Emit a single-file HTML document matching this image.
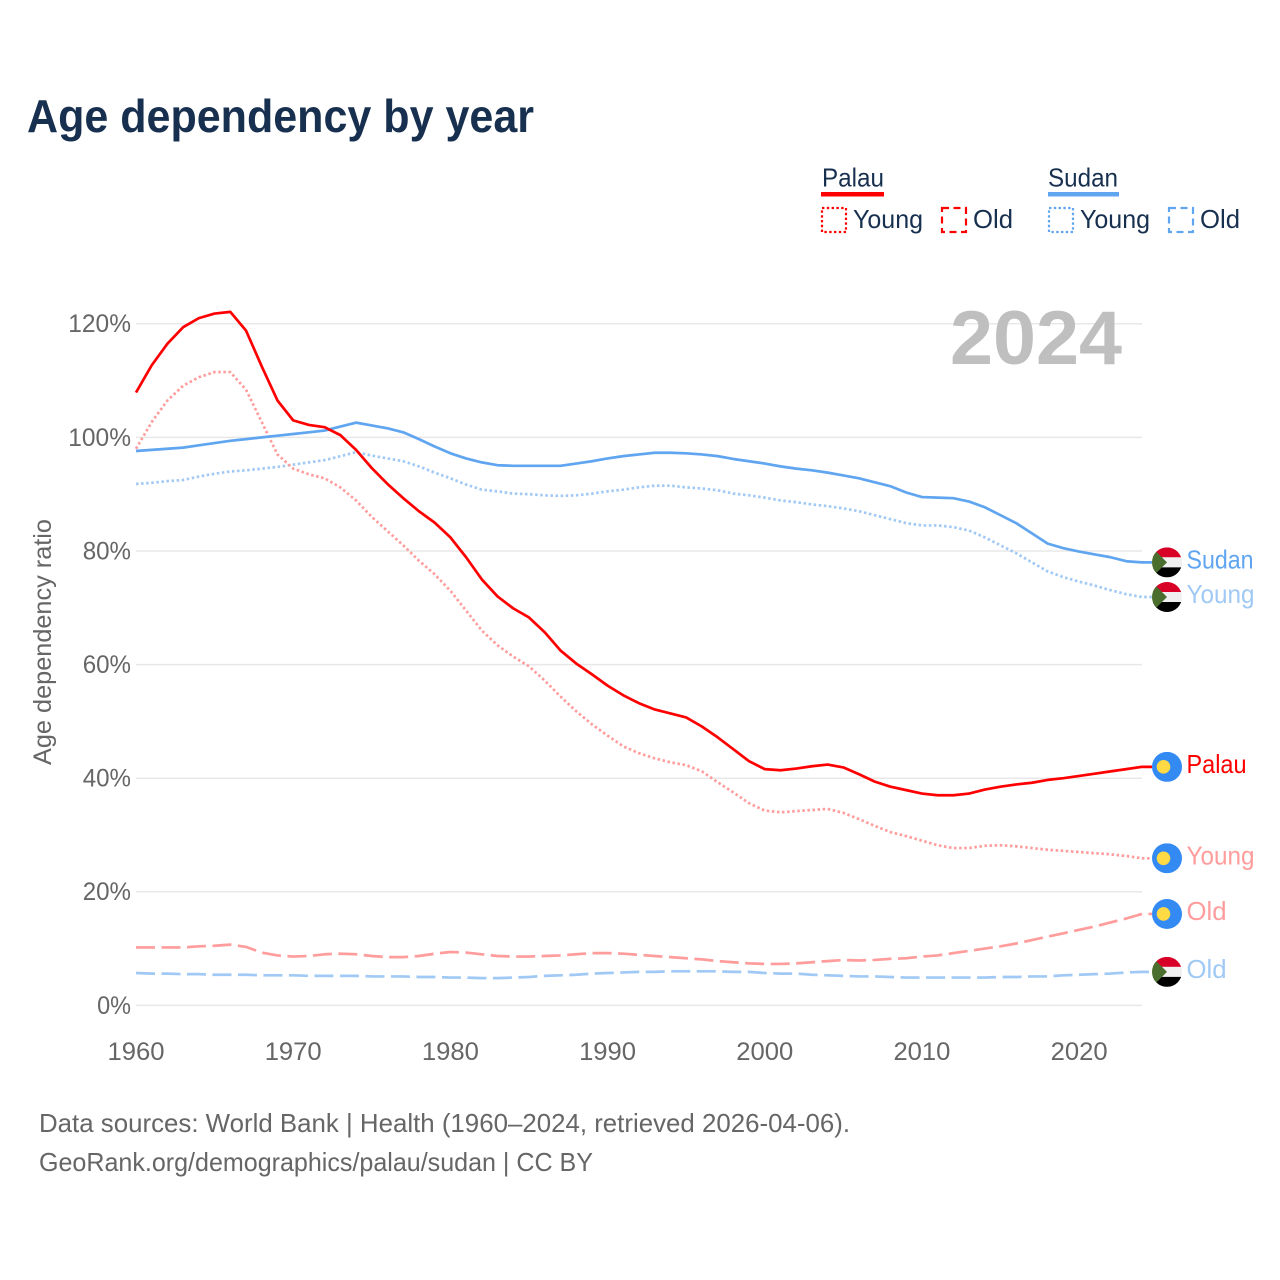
<!DOCTYPE html>
<html lang="en">
<head>
<meta charset="utf-8">
<title>Age dependency by year</title>
<style>
html,body{margin:0;padding:0;background:#fff;}
svg{display:block;font-family:"Liberation Sans",sans-serif;}
</style>
</head>
<body>
<svg id="chart" xmlns="http://www.w3.org/2000/svg" width="1280" height="1280" viewBox="0 0 1280 1280">
  <defs>
    <clipPath id="flag-clip"><circle cx="0" cy="0" r="15"/></clipPath>
    <g id="flag-palau" clip-path="url(#flag-clip)">
      <rect x="-15" y="-15" width="30" height="30" fill="#338af3"/>
      <circle cx="-3.5" cy="0" r="6.8" fill="#ffda44"/>
    </g>
    <g id="flag-sudan" clip-path="url(#flag-clip)">
      <rect x="-15" y="-15" width="30" height="10" fill="#d80027"/>
      <rect x="-15" y="-5" width="30" height="10" fill="#f0f0f0"/>
      <rect x="-15" y="5" width="30" height="10" fill="#000"/>
      <polygon points="-15,-15 0,0 -15,15" fill="#496e2d"/>
    </g>
  </defs>

  <text x="27" y="132" font-size="46" font-weight="700" fill="#18304f" textLength="507" lengthAdjust="spacingAndGlyphs">Age dependency by year</text>

  <g font-size="26" fill="#18304f">
    <text x="822" y="186.5" textLength="62" lengthAdjust="spacingAndGlyphs">Palau</text>
    <rect x="821" y="192" width="63" height="4.5" fill="#ff0000"/>
    <rect x="822" y="208" width="24" height="24" fill="none" stroke="#ff0000" stroke-width="2.2" stroke-dasharray="2.4,2.4"/>
    <text x="853" y="228" textLength="70" lengthAdjust="spacingAndGlyphs">Young</text>
    <rect x="942" y="208" width="24" height="24" fill="none" stroke="#ff0000" stroke-width="2.2" stroke-dasharray="7,4.5"/>
    <text x="973" y="228" textLength="40" lengthAdjust="spacingAndGlyphs">Old</text>
    <text x="1048" y="186.5" textLength="70" lengthAdjust="spacingAndGlyphs">Sudan</text>
    <rect x="1048" y="192" width="71" height="4.5" fill="#60a5f0"/>
    <rect x="1049" y="208" width="24" height="24" fill="none" stroke="#60a5f0" stroke-width="2.2" stroke-dasharray="2.4,2.4"/>
    <text x="1080" y="228" textLength="70" lengthAdjust="spacingAndGlyphs">Young</text>
    <rect x="1169" y="208" width="24" height="24" fill="none" stroke="#60a5f0" stroke-width="2.2" stroke-dasharray="7,4.5"/>
    <text x="1200" y="228" textLength="40" lengthAdjust="spacingAndGlyphs">Old</text>
  </g>

  <g id="grid"></g>
  <g id="yticks"></g>
  <g id="xticks"></g>

  <text x="950" y="364" font-size="76" font-weight="700" fill="#bfbfbf" textLength="172" lengthAdjust="spacingAndGlyphs">2024</text>

  <text transform="translate(51,765) rotate(-90)" font-size="25" fill="#666666" textLength="246" lengthAdjust="spacingAndGlyphs">Age dependency ratio</text>

  <g id="series"></g>
  <g id="ends"></g>

  <text x="39" y="1132" font-size="26" fill="#666666" textLength="811" lengthAdjust="spacingAndGlyphs">Data sources: World Bank | Health (1960–2024, retrieved 2026-04-06).</text>
  <text x="39" y="1171" font-size="26" fill="#666666" textLength="554" lengthAdjust="spacingAndGlyphs">GeoRank.org/demographics/palau/sudan | CC BY</text>
</svg>
<script>
const years = [1960,1961,1962,1963,1964,1965,1966,1967,1968,1969,
  1970,1971,1972,1973,1974,1975,1976,1977,1978,1979,
  1980,1981,1982,1983,1984,1985,1986,1987,1988,1989,
  1990,1991,1992,1993,1994,1995,1996,1997,1998,1999,
  2000,2001,2002,2003,2004,2005,2006,2007,2008,2009,
  2010,2011,2012,2013,2014,2015,2016,2017,2018,2019,
  2020,2021,2022,2023,2024];
const xTickValues = [1960,1970,1980,1990,2000,2010,2020];
const yTickValues = [0,20,40,60,80,100,120];

const palauTotal = [107.9,112.7,116.5,119.4,121,121.8,122.1,118.8,112.5,106.5,
  103,102.2,101.8,100.4,97.8,94.6,91.8,89.3,87,85,
  82.4,78.9,75,72,69.9,68.3,65.7,62.5,60.2,58.3,
  56.3,54.6,53.2,52.1,51.4,50.7,49.1,47.2,45.1,43,
  41.6,41.4,41.7,42.1,42.4,41.9,40.7,39.4,38.5,37.9,
  37.3,37,37,37.3,38,38.5,38.9,39.2,39.7,40,
  40.4,40.8,41.2,41.6,42];
const palauYoung = [98,102.7,106.5,109.1,110.6,111.5,111.5,108.4,102.7,97,
  94.5,93.5,92.8,91.2,88.9,86,83.5,81,78.3,75.9,
  73,69.5,66,63.4,61.4,59.7,57.2,54.4,51.8,49.5,
  47.5,45.6,44.4,43.5,42.8,42.3,41.2,39.3,37.5,35.6,
  34.3,34,34.2,34.4,34.6,33.9,32.8,31.6,30.5,29.8,
  29,28.2,27.7,27.7,28.1,28.2,28,27.7,27.4,27.2,
  27,26.8,26.6,26.3,25.9];
const palauOld = [10.2,10.2,10.2,10.2,10.4,10.5,10.7,10.3,9.3,8.8,
  8.6,8.7,9,9.1,9,8.7,8.5,8.5,8.7,9.1,
  9.4,9.3,9,8.7,8.6,8.6,8.7,8.8,9,9.2,
  9.2,9.1,8.9,8.7,8.5,8.3,8.1,7.8,7.6,7.4,
  7.3,7.3,7.4,7.6,7.8,8,7.9,8,8.2,8.3,
  8.6,8.8,9.2,9.6,10,10.4,10.9,11.5,12.1,12.7,
  13.3,13.9,14.6,15.3,16.1];
const sudanTotal = [97.6,97.8,98,98.2,98.6,99,99.4,99.7,100,100.3,
  100.6,100.9,101.2,101.9,102.6,102.1,101.6,100.9,99.7,98.4,
  97.2,96.3,95.6,95.1,95,95,95,95,95.4,95.8,
  96.3,96.7,97,97.3,97.3,97.2,97,96.7,96.2,95.8,
  95.4,94.9,94.5,94.2,93.8,93.3,92.8,92.1,91.4,90.3,
  89.5,89.4,89.3,88.7,87.7,86.3,84.9,83.1,81.3,80.5,
  79.9,79.4,78.9,78.2,78];
const sudanYoung = [91.8,92,92.3,92.5,93.1,93.6,94,94.2,94.5,94.8,
  95.2,95.6,96,96.7,97.4,96.8,96.3,95.8,94.9,93.8,
  92.8,91.7,90.8,90.5,90.1,90,89.8,89.7,89.8,90.1,
  90.5,90.8,91.2,91.5,91.5,91.2,91,90.7,90.1,89.8,
  89.4,88.9,88.6,88.2,87.9,87.5,87,86.3,85.6,84.9,
  84.5,84.5,84.2,83.6,82.4,81,79.6,78,76.4,75.4,
  74.6,73.9,73.1,72.4,71.9];
const sudanOld = [5.7,5.6,5.6,5.5,5.5,5.4,5.4,5.4,5.3,5.3,
  5.3,5.2,5.2,5.2,5.2,5.1,5.1,5.1,5,5,
  4.9,4.9,4.8,4.8,4.9,5,5.2,5.3,5.4,5.6,
  5.7,5.8,5.9,5.9,6,6,6,6,5.9,5.9,
  5.7,5.6,5.6,5.4,5.3,5.2,5.1,5.1,5,4.9,
  4.9,4.9,4.9,4.9,4.9,5,5,5.1,5.1,5.3,
  5.4,5.5,5.6,5.8,5.9];

const NS = 'http://www.w3.org/2000/svg';
const x = function (year) { return 136 + (year - 1960) * (1142 - 136) / 64; };
const y = function (value) { return 1005.4 - value * 5.68; };

const gridGroup = document.getElementById('grid');
const yTickGroup = document.getElementById('yticks');
const xTickGroup = document.getElementById('xticks');
const seriesGroup = document.getElementById('series');
const endGroup = document.getElementById('ends');

yTickValues.forEach(function (v) {
  const line = document.createElementNS(NS, 'line');
  
  
  line.setAttribute('x1', 136);
  line.setAttribute('x2', 1142);
  line.setAttribute('y1', y(v));
  line.setAttribute('y2', y(v));
  line.setAttribute('stroke', '#e8e8e8');
  line.setAttribute('stroke-width', 1.5);
  gridGroup.appendChild(line);

  const label = v + '%';
  const t = document.createElementNS(NS, 'text');
  
  
  t.setAttribute('x', 131 - ((label.length - 1) * 14.4 + 19.5));
  t.setAttribute('y', y(v) + 8.4);
  t.setAttribute('font-size', 25);
  t.setAttribute('fill', '#666666');
  t.setAttribute('textLength', (label.length - 1) * 14.4 + 19.5);
  t.setAttribute('lengthAdjust', 'spacingAndGlyphs');
  t.textContent = label;
  yTickGroup.appendChild(t);
});

xTickValues.forEach(function (yr) {
  const t = document.createElementNS(NS, 'text');
  
  
  t.setAttribute('x', x(yr) - 28.5);
  t.setAttribute('y', 1060);
  t.setAttribute('font-size', 25);
  t.setAttribute('fill', '#666666');
  t.setAttribute('textLength', 57);
  t.setAttribute('lengthAdjust', 'spacingAndGlyphs');
  t.textContent = String(yr);
  xTickGroup.appendChild(t);
});

function drawLine(name, values, color, dash) {
  let d = '';
  values.forEach(function (v, i) {
    d += (i ? 'L' : 'M') + x(years[i]).toFixed(2) + ' ' + y(v).toFixed(2);
  });
  d += 'L1152 ' + y(values[values.length - 1]).toFixed(2);
  const p = document.createElementNS(NS, 'path');
  
  
  p.setAttribute('d', d);
  p.setAttribute('fill', 'none');
  p.setAttribute('stroke', color);
  p.setAttribute('stroke-width', 2.7);
  p.setAttribute('stroke-linejoin', 'round');
  if (dash) p.setAttribute('stroke-dasharray', dash);
  seriesGroup.appendChild(p);
}

function drawEnd(name, values, flag, text, color, width) {
  const cy = y(values[values.length - 1]);
  const u = document.createElementNS(NS, 'use');
  
  
  u.setAttribute('href', '#' + flag);
  u.setAttribute('transform', 'translate(1167,' + cy + ')');
  endGroup.appendChild(u);
  const t = document.createElementNS(NS, 'text');
  
  
  t.setAttribute('x', 1186.5);
  t.setAttribute('y', cy + 6);
  t.setAttribute('font-size', 26);
  t.setAttribute('fill', color);
  t.setAttribute('textLength', width);
  t.setAttribute('lengthAdjust', 'spacingAndGlyphs');
  t.textContent = text;
  endGroup.appendChild(t);
}

drawLine('sudan-old-line', sudanOld, '#a0c9f5', '19,6.5');
drawLine('palau-old-line', palauOld, '#ff9c9c', '19,6.5');
drawLine('sudan-young-line', sudanYoung, '#a0c9f5', '2.5,2.6');
drawLine('palau-young-line', palauYoung, '#ff9c9c', '2.5,2.6');
drawLine('sudan-total-line', sudanTotal, '#60a5f0', '');
drawLine('palau-total-line', palauTotal, '#ff0000', '');

drawEnd('sudan-total', sudanTotal, 'flag-sudan', 'Sudan', '#60a5f0', 67);
drawEnd('sudan-young', sudanYoung, 'flag-sudan', 'Young', '#a0c9f5', 68);
drawEnd('palau-total', palauTotal, 'flag-palau', 'Palau', '#ff0000', 60);
drawEnd('palau-young', palauYoung, 'flag-palau', 'Young', '#ff9c9c', 68);
drawEnd('palau-old', palauOld, 'flag-palau', 'Old', '#ff9c9c', 40);
drawEnd('sudan-old', sudanOld, 'flag-sudan', 'Old', '#a0c9f5', 40);
</script>
</body>
</html>
